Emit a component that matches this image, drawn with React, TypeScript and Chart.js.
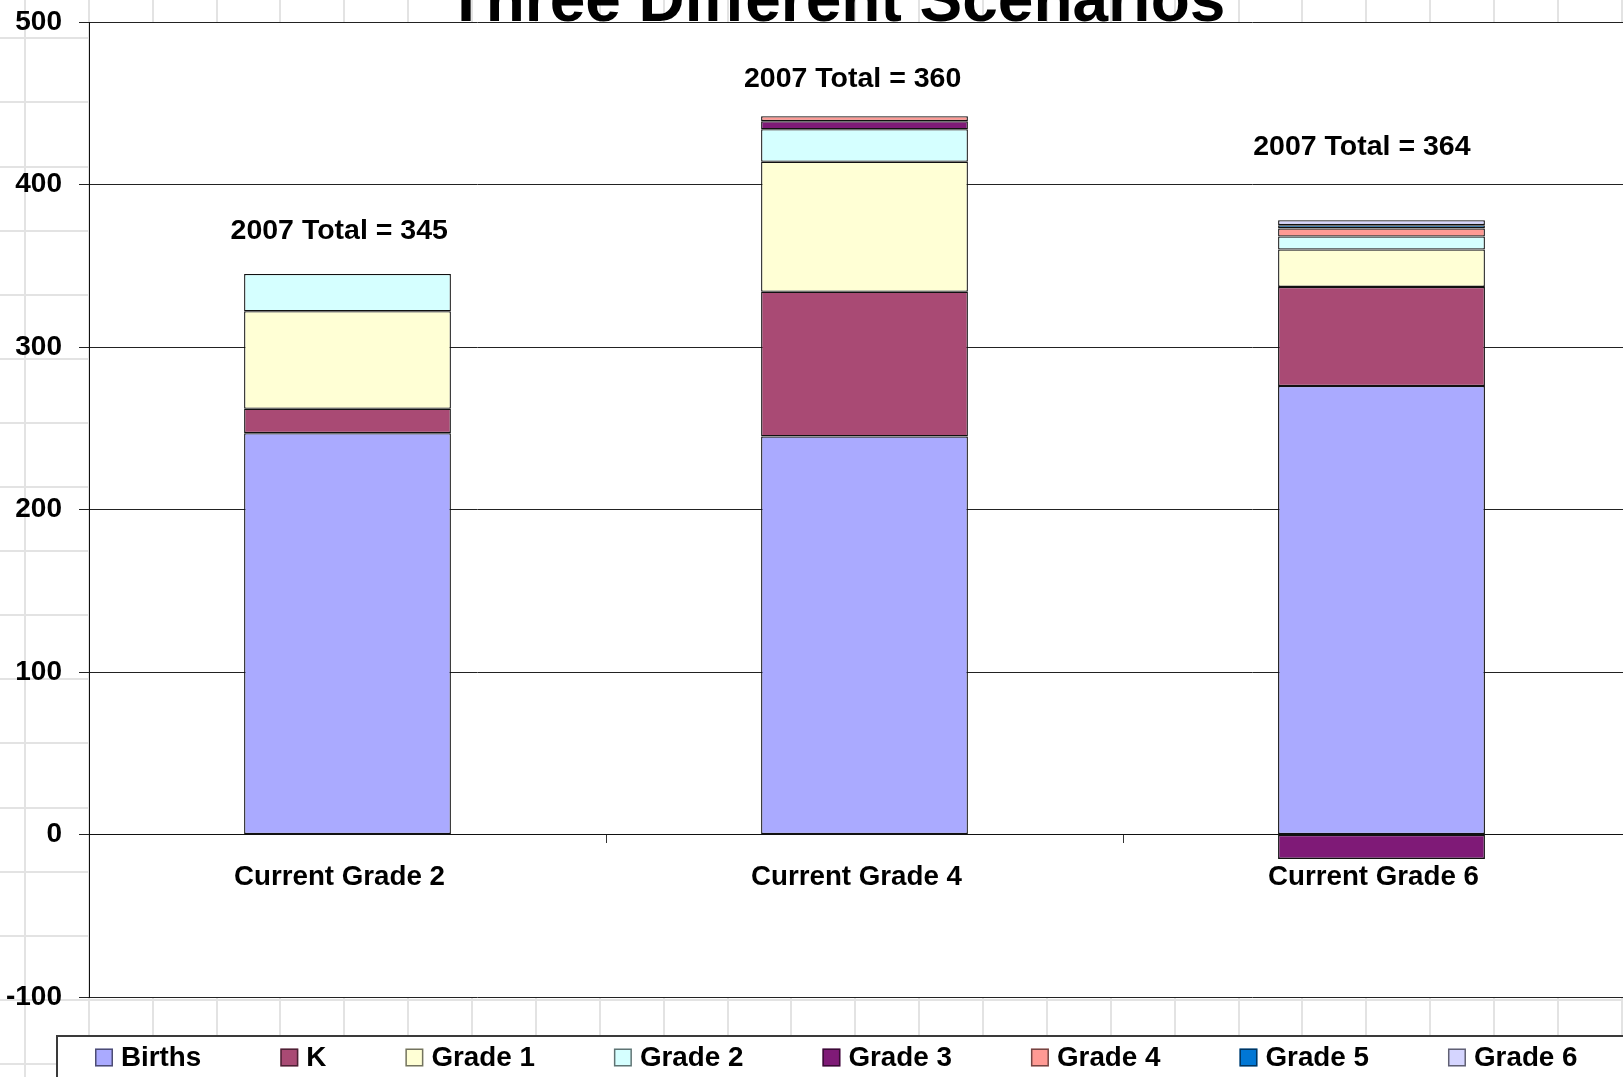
import React, { useEffect, useRef } from "react";
import { Chart, registerables } from "chart.js";

Chart.register(...registerables);

// ---------- data ----------
const categories = ["Current Grade 2", "Current Grade 4", "Current Grade 6"];
const seriesNames = ["Births", "K", "Grade 1", "Grade 2", "Grade 3", "Grade 4", "Grade 5", "Grade 6"];
const births = [247, 245, 276];
const kinder = [15, 89, 61];
const grade1 = [60, 80, 23];
const grade2 = [23, 20, 8];
const grade3 = [null, 5, -15];
const grade4 = [null, 3, 5];
const grade5 = [null, null, 2];
const grade6 = [null, null, 3];
const seriesValues = [births, kinder, grade1, grade2, grade3, grade4, grade5, grade6];

const totalLabels = ["2007 Total = 345", "2007 Total = 360", "2007 Total = 364"];
// annotation anchor positions (category index, value)
const totalLabelX = [-0.016, 0.977, 1.962];
const totalLabelY = [371.5, 465, 423];

const yMin = -100;
const yMax = 500;
const yStep = 100;
const titleText = "Three Different Scenarios";

// ---------- styles ----------
const FONT = "'Liberation Sans', Arial, Helvetica, sans-serif";
const seriesColors = ["#AAAAFF", "#A94A74", "#FFFFD5", "#D5FFFF", "#7F1A77", "#FF9A94", "#0077D5", "#D5D5FF"];

const CANVAS_W = 1700;
const CANVAS_H = 1077;

const sheetPlugin = {
  id: "sheetBackground",
  beforeDraw(chart: any) {
    const { ctx, width, height, chartArea } = chart;
    ctx.save();
    ctx.fillStyle = "#ffffff";
    ctx.fillRect(0, 0, width, height);
    ctx.strokeStyle = "#e3e3e3";
    ctx.lineWidth = 2;
    ctx.beginPath();
    for (let x = 25; x < width; x += 63.87) {
      ctx.moveTo(Math.round(x), 0);
      ctx.lineTo(Math.round(x), height);
    }
    for (let y = 38.3; y < height; y += 64.1) {
      ctx.moveTo(0, Math.round(y));
      ctx.lineTo(width, Math.round(y));
    }
    ctx.stroke();
    // plot area fill
    ctx.fillStyle = "#ffffff";
    ctx.fillRect(chartArea.left, chartArea.top, chartArea.right - chartArea.left, chartArea.bottom - chartArea.top);
    ctx.restore();
  },
  afterDatasetsDraw(chart: any) {
    const { ctx } = chart;
    const xs = chart.scales.x;
    const ys = chart.scales.y;
    ctx.save();
    ctx.fillStyle = "#000";
    ctx.font = `bold 28.5px ${FONT}`;
    ctx.textAlign = "center";
    ctx.textBaseline = "middle";
    totalLabels.forEach((t, i) => {
      ctx.fillText(t, xs.getPixelForValue(totalLabelX[i]), ys.getPixelForValue(totalLabelY[i]));
    });
    ctx.restore();
  },
  afterDraw(chart: any) {
    const { ctx, width } = chart;
    ctx.save();
    // title (upper part cut off by the top edge)
    ctx.fillStyle = "#000";
    ctx.font = `bold 64px ${FONT}`;
    ctx.textAlign = "center";
    ctx.textBaseline = "alphabetic";
    ctx.fillText(titleText, 836, 21);

    // legend box
    const boxLeft = 57;
    const boxTop = 1036;
    ctx.fillStyle = "#ffffff";
    ctx.fillRect(boxLeft, boxTop, width, 100);
    ctx.strokeStyle = "#3a3a3a";
    ctx.lineWidth = 2;
    ctx.strokeRect(boxLeft, boxTop, width, 100);

    ctx.font = `bold 27.8px ${FONT}`;
    ctx.textAlign = "left";
    ctx.textBaseline = "middle";
    const cy = 1057.5;
    let x = 95;
    chart.data.datasets.forEach((ds: any) => {
      ctx.fillStyle = ds.backgroundColor;
      ctx.fillRect(x, cy - 9, 18, 18);
      ctx.strokeStyle = "rgba(0,0,0,0.55)";
      ctx.lineWidth = 1.5;
      ctx.strokeRect(x + 0.75, cy - 8.25, 16.5, 16.5);
      ctx.fillStyle = "#000";
      ctx.fillText(ds.label, x + 26, cy + 1);
      x += 26 + ctx.measureText(ds.label).width + 79;
    });
    ctx.restore();
  },
};

export default function App() {
  const ref = useRef<HTMLCanvasElement | null>(null);

  useEffect(() => {
    document.body.style.margin = "0";
    document.body.style.overflow = "hidden";
    const canvas = ref.current;
    if (!canvas) return;
    Chart.defaults.font.family = FONT;

    const chart = new Chart(canvas, {
      type: "bar",
      data: {
        labels: categories,
        datasets: seriesNames.map((name, i) => ({
          label: name,
          data: seriesValues[i] as any,
          backgroundColor: seriesColors[i],
          borderColor: "#111",
          borderWidth: 1.3,
          borderSkipped: false,
          barPercentage: 0.4,
          categoryPercentage: 1.0,
        })),
      },
      options: {
        responsive: false,
        animation: false,
        events: [],
        layout: { padding: { top: 22, bottom: 80, left: 0, right: 60 } },
        plugins: {
          legend: { display: false },
          title: { display: false },
          tooltip: { enabled: false },
        },
        scales: {
          x: {
            stacked: true,
            position: { y: 0 } as any,
            grid: {
              display: true,
              drawOnChartArea: false,
              drawTicks: true,
              tickLength: 8,
              color: "#333",
              offset: true,
            },
            border: { display: true, color: "#111", width: 1 },
            ticks: {
              color: "#000",
              padding: 18,
              labelOffset: -8,
              maxRotation: 0,
              autoSkip: false,
              font: { family: FONT, size: 27.7, weight: "bold" },
            },
          },
          y: {
            stacked: true,
            min: yMin,
            max: yMax,
            afterFit: (scale: any) => {
              scale.width = 89;
              scale.paddingTop = 0;
              scale.paddingBottom = 0;
            },
            grid: {
              color: "#222",
              lineWidth: 1,
              drawTicks: true,
              tickLength: 10,
            },
            border: { display: true, color: "#111", width: 1 },
            ticks: {
              stepSize: yStep,
              color: "#000",
              padding: 17,
              font: { family: FONT, size: 28, weight: "bold" },
            },
          },
        },
      },
      plugins: [sheetPlugin],
    });
    return () => chart.destroy();
  }, []);

  return (
    <div style={{ position: "fixed", left: 0, top: 0, width: "100vw", height: "100vh", overflow: "hidden", background: "#fff" }}>
      <canvas
        ref={ref}
        width={CANVAS_W}
        height={CANVAS_H}
        style={{ position: "absolute", left: 0, top: 0, width: CANVAS_W + "px", height: CANVAS_H + "px" }}
      />
    </div>
  );
}
